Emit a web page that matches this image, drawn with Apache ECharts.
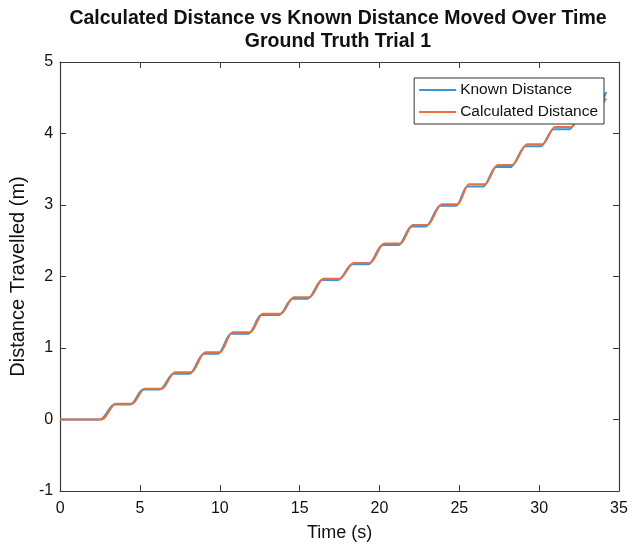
<!DOCTYPE html>
<html>
<head>
<meta charset="utf-8">
<script src="https://cdn.jsdelivr.net/npm/echarts@6/dist/echarts.min.js"></script>
<style>
html,body{margin:0;padding:0;background:#fff;}
#chart{width:633px;height:548px;}
</style>
</head>
<body>
<div id="chart"></div>
<script>
// Known distance (blue)
const knownTime = [0, 2.5, 3.4, 4.4, 5.2, 6.25, 7.1, 8.1, 9.0, 9.9, 10.7, 11.8, 12.6, 13.7, 14.55, 15.5, 16.4, 17.4, 18.3, 19.3, 20.2, 21.2, 22.0, 22.9, 23.8, 24.8, 25.5, 26.5, 27.3, 28.2, 29.15, 30.1, 30.9, 31.9, 32.7, 33.5, 34.2];
const knownDist = [0, 0, 0.21, 0.21, 0.42, 0.42, 0.64, 0.64, 0.92, 0.92, 1.20, 1.20, 1.46, 1.46, 1.69, 1.69, 1.95, 1.95, 2.17, 2.17, 2.44, 2.44, 2.70, 2.70, 2.99, 2.99, 3.26, 3.26, 3.53, 3.53, 3.82, 3.82, 4.06, 4.06, 4.33, 4.33, 4.58];
// Calculated distance (orange)
const calcTime = [0, 2.6, 3.5, 4.5, 5.3, 6.35, 7.2, 8.2, 9.1, 10.0, 10.8, 11.9, 12.7, 13.8, 14.65, 15.6, 16.5, 17.5, 18.4, 19.4, 20.3, 21.3, 22.1, 23.0, 23.9, 24.9, 25.6, 26.6, 27.4, 28.3, 29.25, 30.2, 31.0, 32.0, 32.8, 33.6, 34.2];
const calcDist = [0, 0, 0.22, 0.22, 0.43, 0.43, 0.66, 0.66, 0.94, 0.94, 1.22, 1.22, 1.48, 1.48, 1.71, 1.71, 1.97, 1.97, 2.19, 2.19, 2.46, 2.46, 2.72, 2.72, 3.01, 3.01, 3.29, 3.29, 3.56, 3.56, 3.85, 3.85, 4.09, 4.09, 4.35, 4.35, 4.49];

const seriesNames = ['Known Distance', 'Calculated Distance'];
const xTicks = {min: 0, max: 35, interval: 5};
const yTicks = {min: -1, max: 5, interval: 1};

const zip = (t, v) => t.map((x, i) => [x, v[i]]);
const FONT = '"Liberation Sans", Arial, sans-serif';
const AX = '#3a3a3a';

const chart = echarts.init(document.getElementById('chart'), null, {renderer: 'canvas'});
const baseAxisLine = {show: true, onZero: false, lineStyle: {color: AX, width: 1.2}};
const tick = {show: true, inside: true, length: 6, lineStyle: {color: AX}};

chart.setOption({
  backgroundColor: '#ffffff',
  animation: false,
  title: {
    text: 'Calculated Distance vs Known Distance Moved Over Time\nGround Truth Trial 1',
    left: 333, top: 2, textAlign: 'center',
    textStyle: {fontFamily: FONT, fontWeight: 'bold', fontSize: 19.5, lineHeight: 23, color: '#111'}
  },
  legend: {
    data: seriesNames,
    orient: 'vertical',
    right: 29, top: 78,
    icon: 'rect', itemWidth: 37, itemHeight: 2, itemGap: 6,
    backgroundColor: '#fff', borderColor: '#333', borderWidth: 1,
    padding: [4, 6, 4, 5],
    textStyle: {fontFamily: FONT, fontSize: 15.5, color: '#111', padding: [0, 0, 0, -1]}
  },
  grid: {left: 56, right: 14, top: 62, bottom: 57, containLabel: false},
  xAxis: [{
    type: 'value', min: xTicks.min, max: xTicks.max, interval: xTicks.interval,
    name: 'Time (s)', nameLocation: 'middle', nameGap: 33,
    nameTextStyle: {fontFamily: FONT, fontSize: 18, color: '#111'},
    axisLine: baseAxisLine, axisTick: tick, splitLine: {show: false},
    axisLabel: {fontFamily: FONT, fontSize: 16, color: '#111', margin: 10}
  }, {
    type: 'value', position: 'top', min: xTicks.min, max: xTicks.max, interval: xTicks.interval,
    axisLine: baseAxisLine, axisTick: tick, splitLine: {show: false}, axisLabel: {show: false}
  }],
  yAxis: [{
    type: 'value', min: yTicks.min, max: yTicks.max, interval: yTicks.interval,
    name: 'Distance Travelled (m)', nameLocation: 'middle', nameGap: 32,
    nameTextStyle: {fontFamily: FONT, fontSize: 20, color: '#111'},
    axisLine: baseAxisLine, axisTick: tick, splitLine: {show: false},
    axisLabel: {fontFamily: FONT, fontSize: 16, color: '#111', margin: 7}
  }, {
    type: 'value', position: 'right', min: yTicks.min, max: yTicks.max, interval: yTicks.interval,
    axisLine: baseAxisLine, axisTick: tick, splitLine: {show: false}, axisLabel: {show: false}
  }],
  series: [{
    name: seriesNames[0], type: 'line', data: zip(knownTime, knownDist),
    showSymbol: false, smooth: 0.35, smoothMonotone: 'x',
    lineStyle: {color: '#3a94d6', width: 2}, itemStyle: {color: '#3a94d6'}
  }, {
    name: seriesNames[1], type: 'line', data: zip(calcTime, calcDist),
    showSymbol: false, smooth: 0.35, smoothMonotone: 'x',
    lineStyle: {color: '#e8703f', width: 2}, itemStyle: {color: '#e8703f'}
  }]
});
</script>
</body>
</html>
